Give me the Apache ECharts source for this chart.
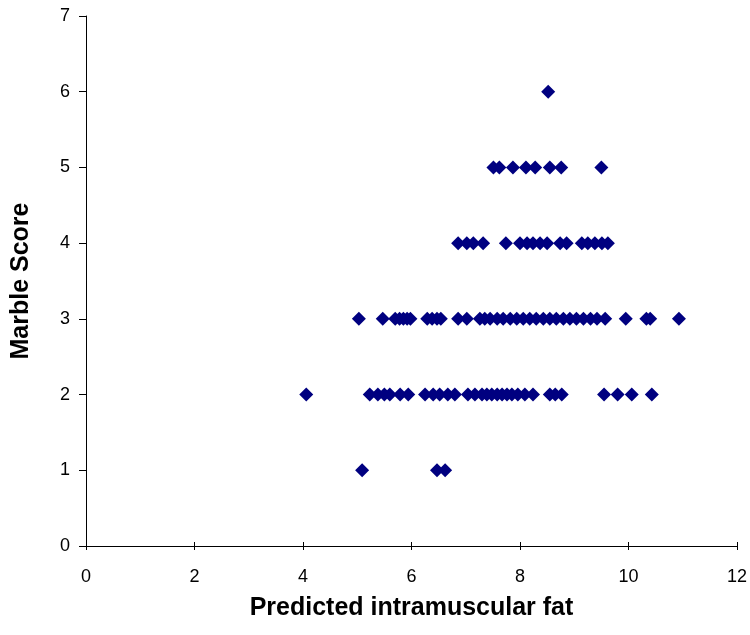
<!DOCTYPE html>
<html>
<head>
<meta charset="utf-8">
<script src="https://cdn.jsdelivr.net/npm/echarts@6/dist/echarts.min.js"></script>
<style>
  html, body { margin: 0; padding: 0; background: #fff; }
  #chart { width: 750px; height: 635px; }
</style>
</head>
<body>
<div id="chart"></div>
<script>
// predicted intramuscular fat readings, grouped by marble score
const score1 = [5.09, 6.47, 6.62];
const score2 = [4.06, 5.23, 5.38, 5.5, 5.6, 5.79, 5.94, 6.25, 6.4, 6.52, 6.67, 6.8,
  7.04, 7.17, 7.3, 7.39, 7.48, 7.58, 7.67, 7.76, 7.85, 7.96, 8.09, 8.24,
  8.55, 8.65, 8.77, 9.55, 9.8, 10.06, 10.43];
const score3 = [5.03, 5.47, 5.7, 5.78, 5.85, 5.92, 5.98, 6.29, 6.38, 6.47, 6.54,
  6.86, 7.02, 7.26, 7.35, 7.45, 7.58, 7.69, 7.82, 7.94, 8.06, 8.18, 8.3, 8.43,
  8.55, 8.67, 8.8, 8.92, 9.04, 9.17, 9.3, 9.42, 9.57, 9.95, 10.33, 10.4, 10.93];
const score4 = [6.86, 7.02, 7.14, 7.32, 7.74, 8.0, 8.13, 8.24, 8.37, 8.5, 8.74, 8.86,
  9.14, 9.25, 9.38, 9.51, 9.62];
const score5 = [7.51, 7.62, 7.87, 8.11, 8.28, 8.55, 8.76, 9.5];
const score6 = [8.52];

const groups = [score1, score2, score3, score4, score5, score6];
const points = [];
groups.forEach((xs, i) => {
  xs.forEach(x => points.push([x, i + 1]));
});

const xTicks = [0, 12, 2];
const yTicks = [0, 7, 1];

const chart = echarts.init(document.getElementById('chart'));
const font = 'Liberation Sans, Arial, sans-serif';

chart.setOption({
  animation: false,
  backgroundColor: '#fff',
  grid: { left: 86, right: 13, top: 16, bottom: 89 },
  xAxis: [{
    type: 'value',
    min: xTicks[0], max: xTicks[1], interval: xTicks[2],
    name: 'Predicted intramuscular fat',
    nameLocation: 'middle',
    nameGap: 50,
    nameTextStyle: { fontFamily: font, fontWeight: 'bold', fontSize: 25, color: '#000' },
    axisLine: { lineStyle: { color: '#000', width: 1 } },
    axisTick: { length: 4, lineStyle: { color: '#000' } },
    axisLabel: { fontFamily: font, fontSize: 18, color: '#000', margin: 22 },
    splitLine: { show: false }
  }, {
    // inner half of the crossing tick marks
    type: 'value',
    position: 'bottom',
    min: xTicks[0], max: xTicks[1], interval: xTicks[2],
    axisLine: { show: false },
    axisTick: { inside: true, length: 4, lineStyle: { color: '#000' } },
    axisLabel: { show: false },
    splitLine: { show: false }
  }],
  yAxis: {
    type: 'value',
    min: yTicks[0], max: yTicks[1], interval: yTicks[2],
    name: 'Marble Score',
    nameLocation: 'middle',
    nameGap: 52,
    nameTextStyle: { fontFamily: font, fontWeight: 'bold', fontSize: 25, color: '#000' },
    axisLine: { show: true, lineStyle: { color: '#000', width: 1 } },
    axisTick: { show: true, length: 7, lineStyle: { color: '#000' } },
    axisLabel: { fontFamily: font, fontSize: 18, color: '#000', margin: 16 },
    splitLine: { show: false }
  },
  series: [{
    type: 'scatter',
    xAxisIndex: 0,
    symbol: 'diamond',
    symbolSize: 14,
    itemStyle: { color: '#000080', opacity: 1 },
    data: points
  }]
});
</script>
</body>
</html>
